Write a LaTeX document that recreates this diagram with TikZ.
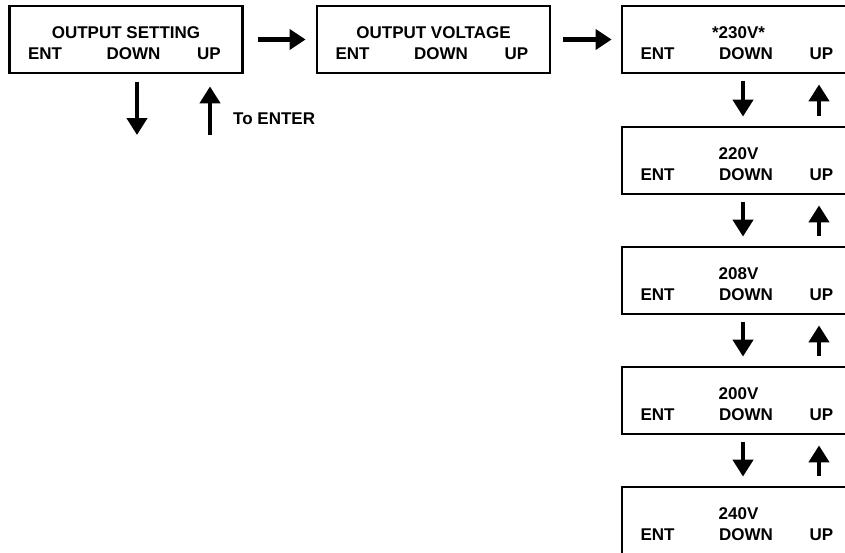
\documentclass[tikz,border=0pt]{standalone}
\usepackage{fontspec}
\setmainfont{Liberation Sans}
\usetikzlibrary{arrows.meta,calc}
\tikzset{
  panel/.style={rectangle,draw,line width=2.8pt,minimum width=233pt,minimum height=67pt,inner sep=0pt},
  txt/.style={inner sep=0pt,text height=12pt,text depth=0pt,font=\fontsize{17}{18}\selectfont\bfseries},
  harrow/.style={line width=5pt,-{Triangle[length=16pt,width=20pt]}},
  varrow/.style={line width=4.5pt,-{Triangle[length=17pt,width=20pt]}}
}

\begin{document}
\begin{tikzpicture}[x=1pt,y=-1pt]
  \clip (0,0) rectangle (845,552);
  \node[panel] (set) at (126,39.5) {};
  \node[txt] (set-val) at ($(set)+(0,-7.5)$) {OUTPUT SETTING};
  \node[panel] (volt) at (433.5,39.5) {};
  \node[txt] (volt-val) at ($(volt)+(0,-7.5)$) {OUTPUT VOLTAGE};
  \foreach \val/\yy [count=\i] in {*230V*/39.5,220V/160.5,208V/280.5,200V/400.5,240V/520.5} {
    \node[panel] (v\i) at (738.5,\yy) {};
    \node[txt] (v\i-val) at ($(v\i)+(0,-7.5)$) {\val};
  }
  \foreach \b in {set,volt,v1,v2,v3,v4,v5} {
    \node[txt] (\b-ent) at ($(\b)+(-81,13.5)$) {ENT};
    \node[txt] (\b-dn) at ($(\b)+(7.5,13.5)$) {DOWN};
    \node[txt] (\b-up) at ($(\b)+(83,13.5)$) {UP};
  }
  \draw[harrow,shorten <=14pt,shorten >=10pt] (set) -- (volt);
  \draw[harrow,shorten <=12pt,shorten >=9pt] (volt) -- (v1);
  \foreach \i/\j in {1/2,2/3,3/4,4/5} {
    \draw[varrow,shorten <=7pt,shorten >=9pt] ([xshift=4.5pt]v\i.south) -- ([xshift=4.5pt]v\j.north);
    \draw[varrow,shorten <=10pt,shorten >=10pt] ([xshift=80.5pt]v\j.north) -- ([xshift=80.5pt]v\i.south);
  }
  \coordinate (dnEnd) at (137,135);
  \coordinate (upEnd) at (210,135);
  \draw[varrow,shorten <=8pt] (dnEnd |- set.south) -- (dnEnd);
  \draw[varrow,shorten >=12pt] (upEnd) -- (upEnd |- set.south);
  \node[txt,anchor=west] (enter) at (233,118) {To ENTER};
\end{tikzpicture}
\end{document}
